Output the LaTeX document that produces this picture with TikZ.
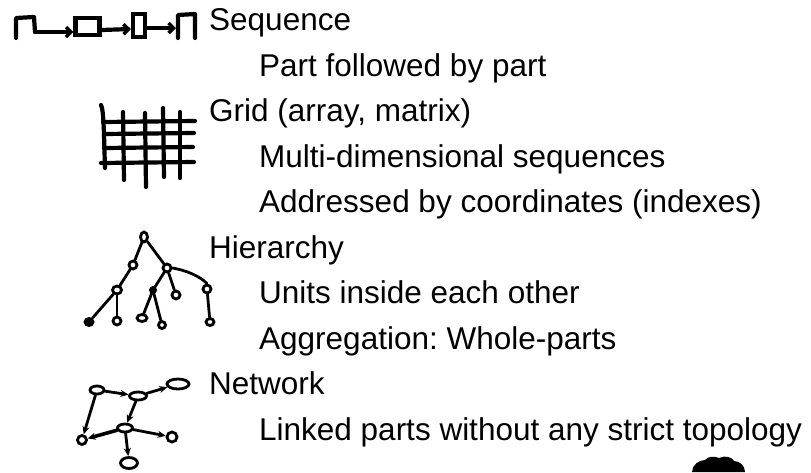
\documentclass[tikz,border=0pt]{standalone}
\usepackage{fontspec}
\setmainfont{Liberation Sans}
\usetikzlibrary{arrows.meta,shapes.geometric}
\frenchspacing
\begin{document}
\begin{tikzpicture}[x=1pt,y=-1pt,
  ink/.style={line width=4.2pt,line cap=round,line join=round},
  pen/.style={line width=2.8pt,line cap=round,line join=round},
  seqbox/.style={rectangle,draw,line width=4.2pt,inner sep=0pt},
  knot/.style={ellipse,draw,line width=2.8pt,inner sep=0pt,fill=white},
  barb/.style={-{Straight Barb[length=5pt,width=10pt,line width=3.4pt]}},
  netarrow/.style={-{Stealth[length=8pt,width=7pt]}},
  heading/.style={anchor=base west,inner sep=0pt,font=\fontsize{31.5}{36}\selectfont},
  item/.style={heading}]
\useasboundingbox (0,0) rectangle (811,472);

% ---- text ----
\node[heading] (seq)   at (209,30.5) {Sequence};
\node[item]    (seq1)  at (259,76)   {Part followed by part};
\node[heading] (grid)  at (209,121.5){Grid (array, matrix)};
\node[item]    (grid1) at (259,167)  {Multi-dimensional sequences};
\node[item]    (grid2) at (259,212.5){Addressed by coordinates (indexes)};
\node[heading] (hier)  at (209,258)  {Hierarchy};
\node[item]    (hier1) at (259,303.5){Units inside each other};
\node[item]    (hier2) at (259,349)  {Aggregation: Whole-parts};
\node[heading] (net)   at (209,394.5){Network};
\node[item]    (net1)  at (259,440)  {Linked parts without any strict topology};

% ---- sequence sketch ----
\draw[ink] (16,38) -- (16,18) -- (34,17) -- (35,32) coordinate (b1);
\node[seqbox,minimum width=24pt,minimum height=17pt] (b2) at (87.5,26.5) {};
\node[seqbox,minimum width=12pt,minimum height=23pt] (b3) at (139,25.5) {};
\draw[ink] (178,38) -- (178,15) -- (195,14) -- (195,38);
\coordinate (b4) at (176,28);
\draw[ink,barb] (b1) -- (b2.west |- 0,32);
\draw[ink,barb] (b2.east |- 0,30) -- (b3.west |- 0,29);
\draw[ink,barb] (b3.east |- 0,28) -- (b4);

% ---- grid sketch ----
\draw[ink] (101,105) .. controls (104,110) and (104,140) .. (105,168);
\draw[ink] (123,112) -- (124,180);
\draw[ink] (145,113) -- (146,187);
\draw[ink] (163,108) -- (164,177);
\draw[ink] (180,112) -- (180,178);
\draw[ink] (103,122) -- (195,121);
\draw[ink] (104,134) -- (194,133);
\draw[ink] (104,148) -- (193,147);
\draw[ink] (101,163) -- (194,162);

% ---- hierarchy sketch ----
\node[knot,minimum width=7pt,minimum height=10pt] (hr) at (144,237) {};
\node[knot,minimum width=8pt,minimum height=8pt]  (ha) at (133,265) {};
\node[knot,minimum width=8pt,minimum height=8pt]  (hb) at (167,268) {};
\node[knot,minimum width=9pt,minimum height=8pt]  (hc) at (117,290) {};
\node[knot,minimum width=5pt,minimum height=5pt,fill=black] (hd) at (153,290) {};
\node[knot,minimum width=8pt,minimum height=8pt]  (he) at (176,295) {};
\node[knot,minimum width=8pt,minimum height=8pt]  (hf) at (207,289) {};
\node[knot,minimum width=8pt,minimum height=7pt,fill=black] (l1) at (89,322) {};
\node[knot,minimum width=8pt,minimum height=8pt]  (l2) at (117,321) {};
\node[knot,minimum width=10pt,minimum height=7pt] (l3) at (142,318) {};
\node[knot,minimum width=7pt,minimum height=7pt]  (l4) at (162,325) {};
\node[knot,minimum width=8pt,minimum height=7pt]  (l5) at (210,322) {};
\draw[pen] (hr) -- (ha);
\draw[pen] (hr) -- (hb);
\draw[pen] (ha) -- (hc);
\draw[pen] (hc) -- (l1);
\draw[pen] (hc) -- (l2);
\draw[pen] (hb) -- (hd);
\draw[pen] (hd) -- (l3);
\draw[pen] (hd) -- (l4);
\draw[pen] (hb) -- (he);
\draw[pen] (hb.east) .. controls (185,270) and (200,276) .. (hf.north);
\draw[pen] (hf) -- (l5);

% ---- network sketch ----
\node[knot,minimum width=14pt,minimum height=8pt]  (n1) at (97,390) {};
\node[knot,minimum width=17pt,minimum height=8pt]  (n2) at (138,396) {};
\node[knot,minimum width=22pt,minimum height=10pt] (n3) at (178,384) {};
\node[knot,minimum width=15pt,minimum height=8pt]  (n4) at (125,428) {};
\node[knot,minimum width=9pt,minimum height=9pt]   (n5) at (82,440) {};
\node[knot,minimum width=10pt,minimum height=10pt] (n6) at (172,437) {};
\node[knot,minimum width=17pt,minimum height=11pt] (n7) at (129,463) {};
\draw[pen,netarrow] (n1) -- (n2);
\draw[pen,netarrow] (n2) -- (n3);
\draw[pen,netarrow] (n2) -- (n4);
\draw[pen,netarrow] (n1) -- (n5);
\draw[pen,netarrow,line width=3.6pt] (n4) -- (n5);
\draw[pen,netarrow] (n4) -- (n6);
\draw[pen,netarrow] (n4) -- (n7);

% ---- ink blot at the lower edge ----
\fill (692,472) .. controls (692,465) and (699,460) .. (705,460)
  .. controls (708,456) and (715,456) .. (719,458)
  .. controls (725,455) and (732,457) .. (734,461)
  .. controls (740,461) and (745,466) .. (745,472) -- cycle;
\end{tikzpicture}
\end{document}
